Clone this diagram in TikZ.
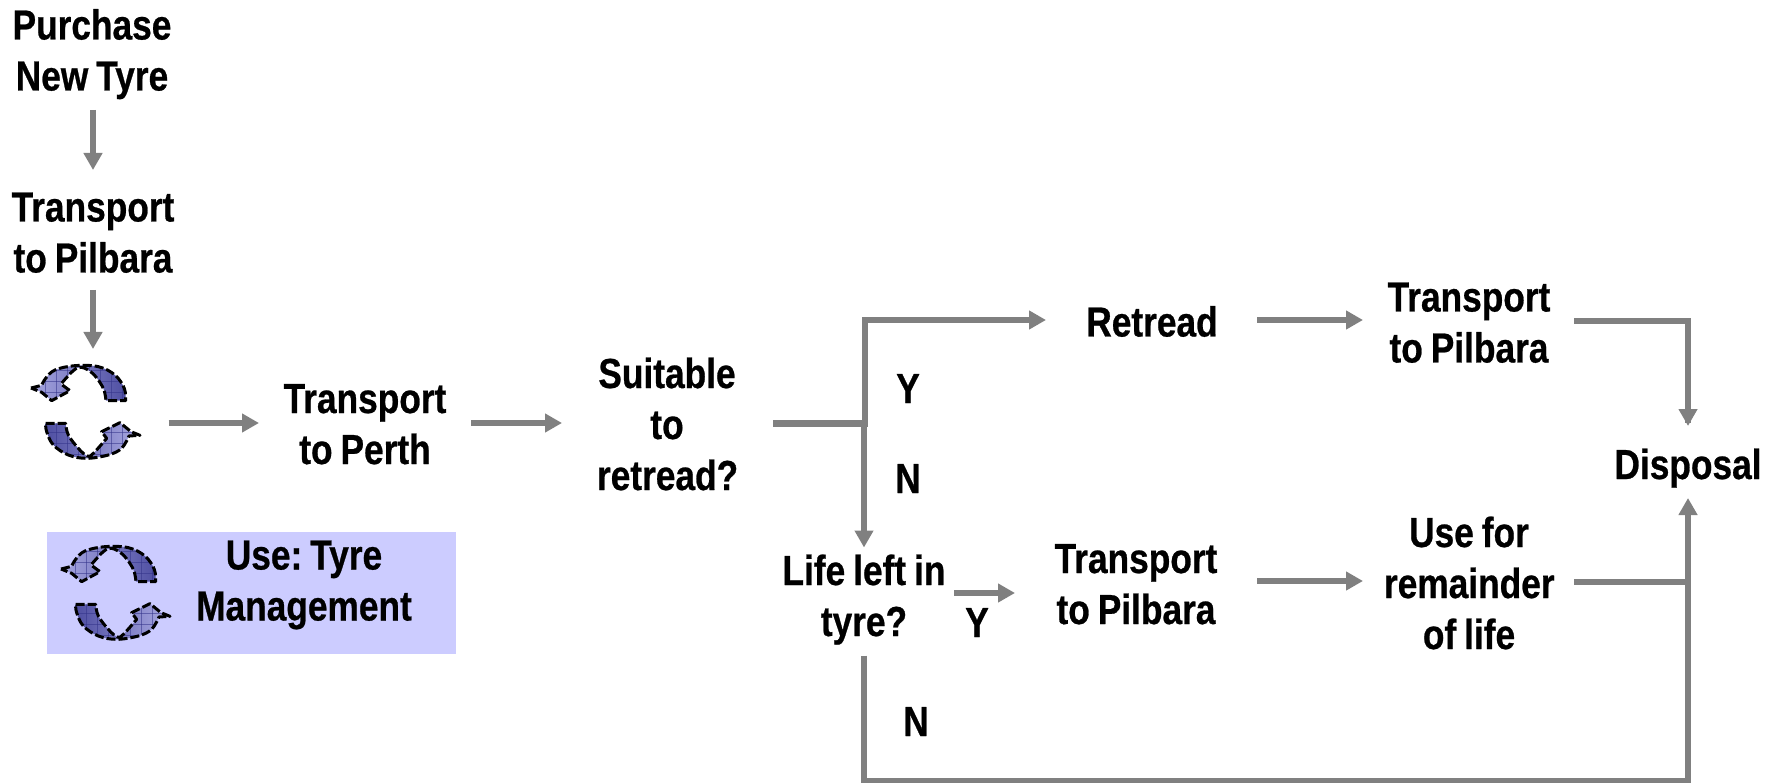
\documentclass[tikz,border=0pt]{standalone}
\usepackage{fontspec}
\setmainfont[FakeStretch=0.84,BoldFeatures={FakeBold=0.6}]{Liberation Sans}
\usetikzlibrary{arrows.meta,calc}
\newcommand{\Ls}{\frenchspacing\spaceskip=8pt\relax\rule[-11.5pt]{0pt}{51pt}}
\definecolor{conn}{HTML}{808080}
\definecolor{iclight}{HTML}{ACACE4}
\definecolor{icdark}{HTML}{4C4CA0}
\definecolor{icgrid}{HTML}{33338A}
\definecolor{legendfill}{HTML}{CCCCFF}
\tikzset{
  label/.style={inner sep=0pt,outer sep=0pt,align=center,text width=#1,font=\fontsize{42}{51}\selectfont\bfseries},
  label/.default=170pt,
  flow/.style={draw=conn,line width=6pt,-{Triangle[length=17pt,width=18pt]}},
  flowplain/.style={draw=conn,line width=6pt},
  iconnode/.style={inner sep=0pt,outer sep=0pt,minimum width=110pt,minimum height=94pt},
  iconline/.style={black,line width=3pt,dash pattern=on 9pt off 3pt,line join=round},
  icongrid/.style={icgrid,opacity=.55,line width=.7pt},
}
\def\toppath{(18,84) -- (50,76) -- plot[smooth,tension=.6] coordinates {(50,76) (62,55) (90,30) (150,17) (220,20) (270,45) (298,85) (302,122)} -- (243,122) -- plot[smooth,tension=.6] coordinates {(243,122) (235,85) (205,42) (170,22) (145,32) (108,72)} -- (135,92) -- (80,122) -- (50,97) -- cycle}
\def\botpath{(62,190) -- (122,190) -- plot[smooth,tension=.6] coordinates {(122,190) (130,225) (160,265) (187,288) (205,280) (245,235)} -- (230,215) -- (285,188) -- (318,215) -- (345,226) -- (312,228) -- plot[smooth,tension=.6] coordinates {(312,228) (290,265) (250,285) (185,295) (130,285) (85,255) (65,215) (62,190)} -- cycle}
\newcommand{\tyreicon}[2]{%
  \begin{scope}[shift={(#1,#2)},x=0.3333pt,y=-0.3333pt]
    \begin{scope}
      \clip \toppath;
      \shade[left color=iclight,middle color=iclight!70!icdark,right color=icdark] (0,0) rectangle (310,130);
      \foreach \gx in {60,93,...,300} \draw[icongrid] (\gx,0) -- (\gx,130);
      \foreach \gy in {30,63,96} \draw[icongrid] (0,\gy) -- (310,\gy);
    \end{scope}
    \begin{scope}
      \clip \botpath;
      \shade[left color=icdark,middle color=iclight!70!icdark,right color=iclight] (55,180) rectangle (350,300);
      \foreach \gx in {60,93,...,340} \draw[icongrid] (\gx,180) -- (\gx,300);
      \foreach \gy in {216,249,282} \draw[icongrid] (55,\gy) -- (350,\gy);
    \end{scope}
    \draw[iconline] \toppath;
    \draw[iconline] \botpath;
  \end{scope}}
\begin{document}
\begin{tikzpicture}[x=1pt,y=-1pt]
\useasboundingbox (0,0) rectangle (1779,783);
\fill[white] (0,0) rectangle (1779,783);

\node[fill=legendfill,inner sep=0pt,minimum width=409pt,minimum height=122pt] (legend) at (251.5,593) {};
\tyreicon{25}{360}
\tyreicon{55}{541}
\node[iconnode] (use1) at (85.5,411) {};
\node[iconnode] (use2) at (115.5,592) {};

\node[label] (purchase) at (92,51) {\Ls Purchase\\\Ls New Tyre};
\node[label] (pilbaraA) at (93,233) {\Ls Transport\\\Ls to Pilbara};
\node[label] (perth) at (365,424.5) {\Ls Transport\\\Ls to Perth};
\node[label=140pt] (suitable) at (667,425) {\Ls Suitable\\\Ls to\\\Ls retread?};
\node[label] (retread) at (1152,322.5) {\Ls Retread};
\node[label] (pilbaraB) at (1469,323) {\Ls Transport\\\Ls to Pilbara};
\node[label] (disposal) at (1688,465) {\Ls Disposal};
\node[label=200pt] (life) at (864,596.5) {\Ls Life left in\\\Ls tyre?};
\node[label] (pilbaraC) at (1136,584.5) {\Ls Transport\\\Ls to Pilbara};
\node[label] (usefor) at (1469,584) {\Ls Use for\\\Ls remainder\\\Ls of life};
\node[label=240pt] (legtext) at (304,581) {\Ls Use: Tyre\\\Ls Management};
\node[label=40pt] (yA) at (908,389) {\Ls Y};
\node[label=40pt] (nA) at (908,479) {\Ls N};
\node[label=40pt] (yB) at (977,623) {\Ls Y};
\node[label=40pt] (nB) at (916,722) {\Ls N};

\coordinate (split) at (865,423);
\coordinate (corner) at (1688,780.5);

\draw[flow] ([yshift=-8pt]purchase.south -| pilbaraA.south) -- ([yshift=12pt]pilbaraA.north);
\draw[flow] ([yshift=-6pt]pilbaraA.south) -- ([yshift=15pt]pilbaraA.south |- use1.north);
\draw[flow] ([xshift=28pt]use1.east |- split) -- ([xshift=-21pt]perth.west |- split);
\draw[flow] ([xshift=21pt]perth.east |- split) -- ([xshift=-35pt]suitable.west |- split);
\draw[draw=conn,line width=7pt] ([xshift=36pt]suitable.east |- split) -- ([xshift=3pt]split);
\draw[flow] (split) |- ([xshift=-21pt,yshift=2.5pt]retread.west);
\draw[flow] ([xshift=20pt,yshift=2.5pt]retread.east) -- ([xshift=-21pt,yshift=2.5pt]retread.east -| pilbaraB.west);
\draw[flowplain] ([xshift=20pt,yshift=2pt]pilbaraB.east) -| (disposal.north |- split);
\draw[flow] (disposal.north |- pilbaraB.east) -- ([yshift=13.5pt]disposal.north);
\draw[flow] (split -| life.north) -- ([yshift=-2pt]life.north);
\draw[flow] ([xshift=-10pt,yshift=3.5pt]life.east) -- ([xshift=-36pt,yshift=-8.5pt]pilbaraC.west);
\draw[flow] ([xshift=36pt,yshift=3.5pt]pilbaraC.east) -- ([xshift=-21pt,yshift=3pt]usefor.west);
\draw[flowplain] ([xshift=20pt,yshift=2pt]usefor.east) -- ([yshift=2pt]disposal.south |- usefor.east);
\draw[flow] ([yshift=-8pt]life.south) |- (corner) -- ([yshift=-7.5pt]disposal.south);
\end{tikzpicture}
\end{document}
